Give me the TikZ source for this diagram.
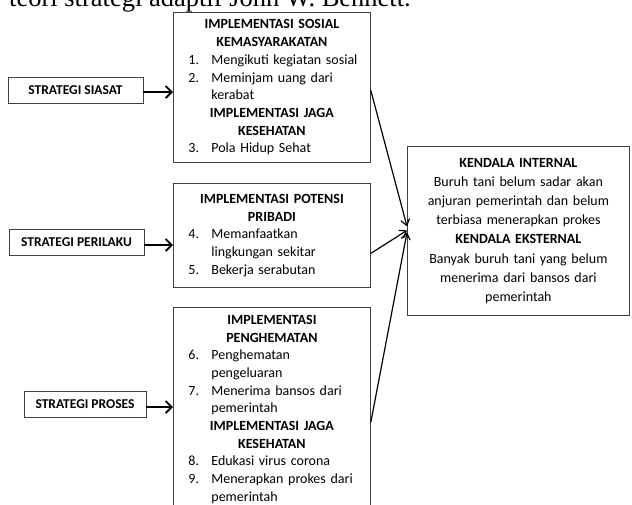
\documentclass[tikz,border=0pt]{standalone}
\usepackage{fontspec}
\setmainfont{Carlito}
\newfontfamily\judulfont{Liberation Serif}
\usetikzlibrary{positioning, arrows.meta}
\newcommand{\itm}[2]{\makebox[\linewidth][l]{\makebox[23pt][l]{#1}#2}}

\begin{document}
\begin{tikzpicture}[x=1pt, y=-1pt,
    strat/.style={draw=black!75, line width=0.8pt, minimum height=26pt, inner sep=0pt,
        font=\fontsize{13.5}{16}\selectfont\bfseries},
    impl/.style={draw=black!75, line width=0.8pt, anchor=north west, text width=167pt,
        inner xsep=15pt, inner ysep=0pt, align=center, font=\fontsize{14}{17.7}\selectfont},
    kendala/.style={draw=black!75, line width=0.8pt, anchor=north west, text width=210pt,
        inner xsep=6pt, inner ysep=0pt, align=center, font=\fontsize{14}{19.2}\selectfont},
    strat arrow/.style={line width=1.8pt, -{Straight Barb[length=6pt, width=12pt]}},
    link/.style={line width=1.2pt, -{Straight Barb[length=6pt, width=9pt]}}]
    \useasboundingbox (0,0) rectangle (632,504);
    \clip (0,0) rectangle (632,504);

    \node[anchor=base west, inner sep=0pt, font=\judulfont\fontsize{26.5}{26.5}\selectfont] (judul) at (9,6)
        {teori strategi adaptif John W. Bennett.};

    % strategi
    \node[strat, minimum width=135pt] (siasat) at (75.5,90) {STRATEGI SIASAT};
    \node[strat, minimum width=135pt] (perilaku) at (76.5,242) {STRATEGI PERILAKU};
    \node[strat, minimum width=122pt] (proses) at (85,404.5) {STRATEGI PROSES};

    % implementasi
    \node[impl, minimum height=150pt] (sosial) at (173,12) {
        \textbf{IMPLEMENTASI SOSIAL}\\
        \textbf{KEMASYARAKATAN}\\
        \itm{1.}{Mengikuti kegiatan sosial}\\
        \itm{2.}{Meminjam uang dari}\\
        \itm{}{kerabat}\\
        \textbf{IMPLEMENTASI JAGA}\\
        \textbf{KESEHATAN}\\
        \itm{3.}{Pola Hidup Sehat}};
    \node[impl, minimum height=104pt] (potensi) at (173,183) {
        \textbf{IMPLEMENTASI POTENSI}\\
        \textbf{PRIBADI}\\
        \itm{4.}{Memanfaatkan}\\
        \itm{}{lingkungan sekitar}\\
        \itm{5.}{Bekerja serabutan}};
    \node[impl, minimum height=204pt] (hemat) at (173,307) {
        \textbf{IMPLEMENTASI}\\
        \textbf{PENGHEMATAN}\\
        \itm{6.}{Penghematan}\\
        \itm{}{pengeluaran}\\
        \itm{7.}{Menerima bansos dari}\\
        \itm{}{pemerintah}\\
        \textbf{IMPLEMENTASI JAGA}\\
        \textbf{KESEHATAN}\\
        \itm{8.}{Edukasi virus corona}\\
        \itm{9.}{Menerapkan prokes dari}\\
        \itm{}{pemerintah}};

    % kendala
    \node[kendala, minimum height=169pt] (kendala) at (407,146) {
        \textbf{KENDALA INTERNAL}\\
        Buruh tani belum sadar akan\\
        anjuran pemerintah dan belum\\
        terbiasa menerapkan prokes\\
        \textbf{KENDALA EKSTERNAL}\\
        Banyak buruh tani yang belum\\
        menerima dari bansos dari\\
        pemerintah};

    \draw[strat arrow] ([yshift=-2pt]siasat.east) -- ([yshift=-2pt]siasat.east -| sosial.west);
    \draw[strat arrow] ([yshift=-3pt]perilaku.east) -- ([yshift=-3pt]perilaku.east -| potensi.west);
    \draw[strat arrow] ([yshift=-2.5pt]proses.east) -- ([yshift=-2.5pt]proses.east -| hemat.west);

    \draw[link] ([yshift=-3pt]sosial.east) -- ([yshift=4.5pt]kendala.west);
    \draw[link] ([yshift=-18pt]potensi.east) -- ([yshift=0.5pt]kendala.west);
    \draw[link] ([yshift=-13pt]hemat.east) -- ([yshift=-1.5pt]kendala.west);
\end{tikzpicture}
\end{document}
